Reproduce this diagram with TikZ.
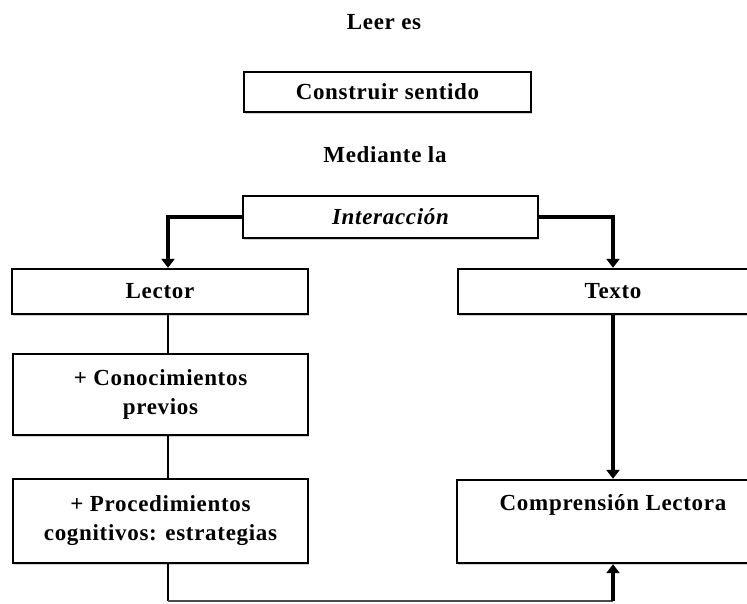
\documentclass[tikz,border=0pt]{standalone}
\usepackage{fontspec}
\setmainfont{Liberation Serif}[LetterSpace=3]
\usetikzlibrary{arrows.meta,shadows}
\begin{document}
\begin{tikzpicture}[x=1pt,y=-1pt,
  every node/.style={font=\fontsize{23}{29}\selectfont\bfseries},
  box/.style={draw,line width=2.4pt,fill=white,align=center,inner sep=0pt,
    drop shadow={shadow xshift=1pt,shadow yshift=-2pt,opacity=0.3,fill=black!60}},
  thick line/.style={line width=4pt},
  thin line/.style={line width=2.6pt},
  tip/.style={-{Triangle[width=13pt,length=9pt]}}]
\useasboundingbox (0,0) rectangle (747,603);
\node (title) at (384,22) {Leer es};
\node[box,minimum width=287pt,minimum height=40pt] (cons) at (387.5,92) {Construir sentido};
\node (med) at (385,155) {Mediante la};
\node[box,minimum width=295pt,minimum height=42pt,font=\fontsize{23}{29}\selectfont\bfseries\itshape] (inter) at (390.5,217) {Interacción};
\node[box,minimum width=296pt,minimum height=45pt] (lector) at (160,291.5) {Lector};
\node[box,minimum width=310pt,minimum height=45pt] (texto) at (613,291.5) {Texto};
\node[box,minimum width=295pt,minimum height=81pt] (con) at (160.5,394.5) {+ Conocimientos\\previos};
\node[box,minimum width=295pt,minimum height=84pt] (proc) at (160.5,521) {+ Procedimientos\\cognitivos: estrategias};
\node[box,minimum width=312pt,minimum height=83pt] (comp) at (613,521.5) {Comprensión Lectora\\\strut};
\coordinate (xl) at (168,0);
\coordinate (bl) at (168,601);
\coordinate (br) at (613,601);
\draw[thick line,tip] (inter.west) -| (lector.north -| xl);
\draw[thick line,tip] (inter.east) -| (texto.north);
\draw[thin line] (lector.south -| xl) -- (con.north -| xl);
\draw[thin line] (con.south -| xl) -- (proc.north -| xl);
\draw[thin line] (proc.south -| xl) -- (bl);
\draw[line width=1.2pt,black!70] (bl) -- (br);
\draw[thick line,tip] (br) -- (comp.south);
\draw[thick line,tip] (texto.south) -- (comp.north);
\end{tikzpicture}
\end{document}
